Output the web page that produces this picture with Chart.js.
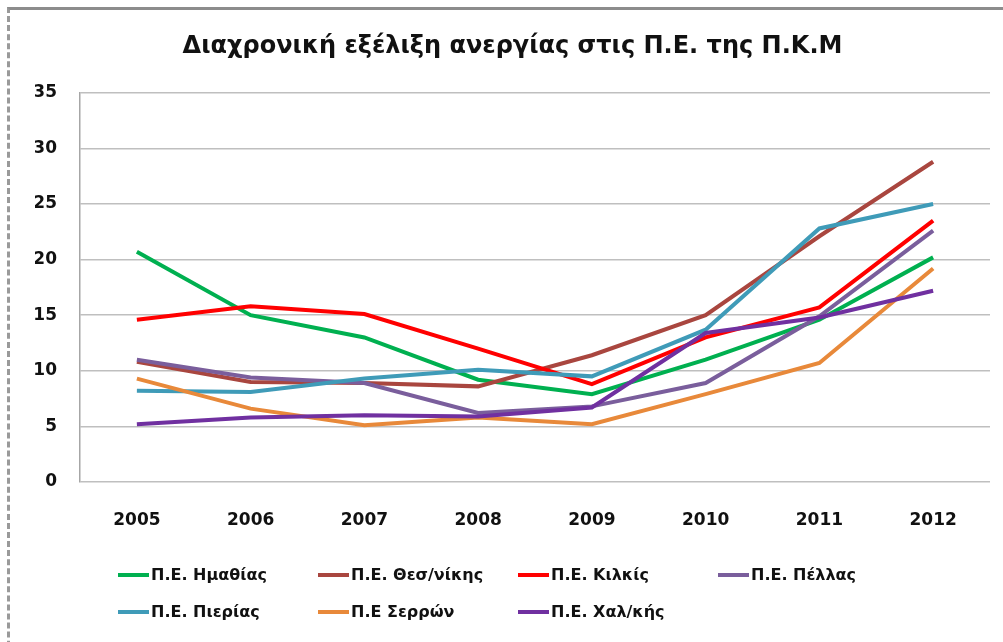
<!DOCTYPE html>
<html>
<head>
<meta charset="utf-8">
<script src="https://cdn.jsdelivr.net/npm/chart.js@4"></script>
<style>
  html, body { margin: 0; padding: 0; background: #fff; overflow: hidden; }
  #frame {
    position: absolute; left: 7px; top: 7px; width: 1100px; height: 700px;
    border-top: 3px solid #8c8c8c; border-left: 3px dashed #9a9a9a;
  }
  #wrap { position: absolute; left: 0; top: 0; width: 1003px; height: 642px; }
</style>
</head>
<body>
<div id="frame"></div>
<div id="wrap"><canvas id="unemploymentChart" width="1003" height="642"></canvas></div>
<script>
var years = ["2005", "2006", "2007", "2008", "2009", "2010", "2011", "2012"];

var imathia    = [20.7, 15.0, 13.0, 9.2, 7.9, 11.0, 14.6, 20.2];
var thessaloniki = [10.8, 9.0, 8.9, 8.6, 11.4, 15.0, 22.1, 28.8];
var kilkis     = [14.6, 15.8, 15.1, 12.0, 8.8, 13.0, 15.7, 23.5];
var pella      = [11.0, 9.4, 8.9, 6.2, 6.8, 8.9, 14.9, 22.6];
var pieria     = [8.2, 8.1, 9.3, 10.1, 9.5, 13.7, 22.8, 25.0];
var serres     = [9.3, 6.6, 5.1, 5.8, 5.2, 7.9, 10.7, 19.2];
var chalkidiki = [5.2, 5.8, 6.0, 5.9, 6.7, 13.4, 14.8, 17.2];

var seriesNames = ["Π.Ε. Ημαθίας", "Π.Ε. Θεσ/νίκης", "Π.Ε. Κιλκίς", "Π.Ε. Πέλλας",
                   "Π.Ε. Πιερίας", "Π.Ε Σερρών", "Π.Ε. Χαλ/κής"];
var seriesValues = [imathia, thessaloniki, kilkis, pella, pieria, serres, chalkidiki];
var seriesColors = ["#00b050", "#a9463f", "#ff0000", "#7a5e9c", "#3f9bb8", "#e8893a", "#7030a0"];

var yTicks = [0, 5, 10, 15, 20, 25, 30, 35];

// legend laid out as a grid, like the spreadsheet legend
var gridLegend = {
  id: "gridLegend",
  afterDraw: function(chart) {
    var ctx = chart.ctx;
    var cols = [118, 318, 518, 718];
    var rows = [575, 612];
    ctx.save();
    ctx.font = "bold 16px 'DejaVu Sans'";
    ctx.textBaseline = "middle";
    ctx.fillStyle = "#111";
    chart.data.datasets.forEach(function(ds, i) {
      var x = cols[i % 4], y = rows[Math.floor(i / 4)];
      ctx.strokeStyle = ds.borderColor;
      ctx.lineWidth = 4;
      ctx.beginPath();
      ctx.moveTo(x, y);
      ctx.lineTo(x + 31, y);
      ctx.stroke();
      ctx.fillText(ds.label, x + 33, y + 1);
    });
    ctx.restore();
  }
};

document.addEventListener("DOMContentLoaded", function() {
  var ctx = document.getElementById("unemploymentChart").getContext("2d");

  var datasets = seriesNames.map(function(name, i) {
    return {
      label: name,
      data: seriesValues[i],
      borderColor: seriesColors[i],
      backgroundColor: seriesColors[i],
      borderWidth: 4,
      pointRadius: 0,
      tension: 0,
      order: seriesNames.length - i
    };
  });

  new Chart(ctx, {
    type: "line",
    data: { labels: years, datasets: datasets },
    options: {
      responsive: false,
      animation: false,
      layout: { padding: { left: 35, right: 13, top: 0, bottom: 100 } },
      plugins: {
        legend: { display: false },
        tooltip: { enabled: false },
        title: {
          display: true,
          text: "Διαχρονική εξέλιξη ανεργίας στις Π.Ε. της Π.Κ.Μ",
          color: "#111",
          font: { family: "'DejaVu Sans'", size: 24, weight: "bold", lineHeight: 1.2 },
          padding: { top: 32, bottom: 32 }
        }
      },
      scales: {
        x: {
          offset: true,
          grid: { display: false, drawTicks: false },
          border: { display: false },
          ticks: {
            color: "#111",
            padding: 28,
            font: { family: "'DejaVu Sans'", size: 17, weight: "bold" }
          },
          afterFit: function(scale) { scale.height = 60; }
        },
        y: {
          min: 0,
          max: 35,
          afterBuildTicks: function(scale) {
            scale.ticks = yTicks.map(function(v) { return { value: v }; });
          },
          grid: { color: "#bfbfbf", lineWidth: 1.5, drawTicks: false },
          border: { display: true, color: "#a6a6a6", width: 1.5 },
          ticks: {
            color: "#111",
            padding: 23,
            font: { family: "'DejaVu Sans'", size: 17, weight: "bold" }
          },
          afterFit: function(scale) { scale.width = 45; }
        }
      }
    },
    plugins: [gridLegend]
  });
});
</script>
</body>
</html>
